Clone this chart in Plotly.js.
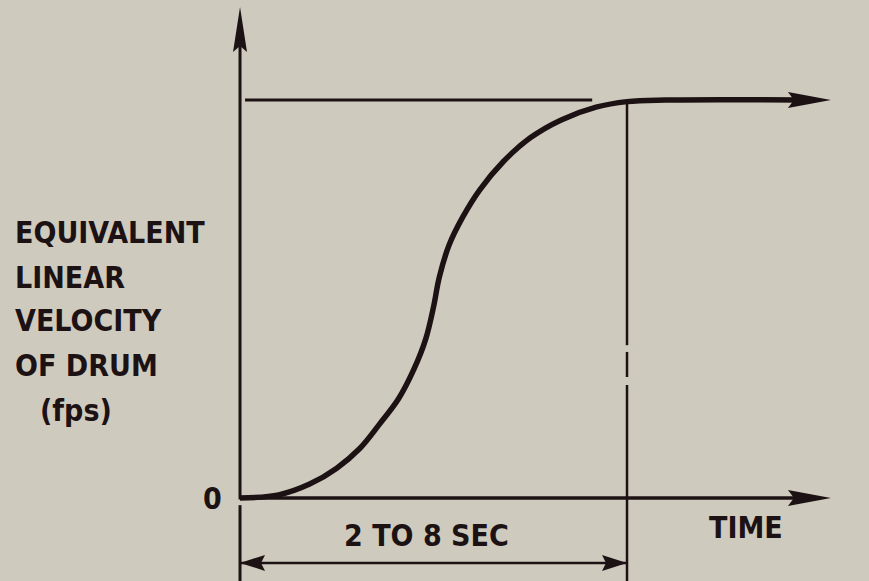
<!DOCTYPE html>
<html>
<head>
<meta charset="utf-8">
<script src="https://cdn.plot.ly/plotly-3.0.1.min.js"></script>
<style>html,body{margin:0;padding:0;background:#cfcabe;}</style>
</head>
<body>
<div id="chart" style="width:869px;height:581px;"></div>
<script>
// ---- data (time normalised: 0 = start, 1 = end of acceleration; velocity normalised: 1 = full speed)
var curveTime     = [0, 0.10, 0.18, 0.25, 0.31, 0.36, 0.41, 0.45, 0.48, 0.50, 0.515, 0.54, 0.575, 0.62, 0.68, 0.75, 0.83, 0.92, 1.00, 1.10, 1.48];
var curveVelocity = [0, 0.008, 0.035, 0.075, 0.125, 0.185, 0.25, 0.325, 0.40, 0.48, 0.555, 0.635, 0.705, 0.775, 0.845, 0.905, 0.95, 0.982, 0.996, 1.0, 1.0];
var plateauTime     = [0.013, 0.910];
var plateauVelocity = [1, 1];
var timeAxisTime     = [0, 1.48];
var timeAxisVelocity = [0, 0];
var velAxisTime      = [0, 0, null, 0, 0];
var velAxisVelocity  = [-0.21, -0.018, null, -0.004, 1.20];
var endMarkTime      = [1, 1, null, 1, 1, null, 1, 1];
var endMarkVelocity  = [1, 0.384, null, 0.367, 0.304, null, 0.284, -0.21];
var spanTime     = [0, 1];
var spanVelocity = [-0.163, -0.163];
var arrowTipTime = 1.527, velAxisTip = 1.234;
var yLabelLines = ['EQUIVALENT', 'LINEAR', 'VELOCITY', 'OF DRUM'];
var yUnitLabel = '(fps)';
var xLabel = 'TIME';
var spanLabel = '2 TO 8 SEC';
var zeroLabel = '0';

var ink = '#1c1214';
var bg = '#cfcabe';
var font = {family: '"Liberation Sans Narrow", "DejaVu Sans Condensed", sans-serif', size: 30, color: ink, weight: 'bold'};

function lineTrace(x, y, w) {
  return {x: x, y: y, mode: 'lines', type: 'scatter', hoverinfo: 'skip', showlegend: false,
          line: {color: ink, width: w, shape: 'linear'}, connectgaps: false};
}
var traces = [
  lineTrace(velAxisTime, velAxisVelocity, 3),
  lineTrace(timeAxisTime, timeAxisVelocity, 3.5),
  lineTrace(plateauTime, plateauVelocity, 3),
  lineTrace(endMarkTime, endMarkVelocity, 2.5),
  lineTrace(spanTime, spanVelocity, 2.5)
];
var curve = lineTrace(curveTime, curveVelocity, 5.5);
curve.line.shape = 'spline';
curve.line.smoothing = 1;
traces.push(curve);

function head(t, v, path) {
  return {type: 'path', xref: 'x', yref: 'y', xsizemode: 'pixel', ysizemode: 'pixel',
          xanchor: t, yanchor: v, path: path, fillcolor: ink, line: {width: 0}};
}
var shapes = [
  head(0, velAxisTip, 'M0,0 L-7,-45 L0,-39 L7,-45 Z'),
  head(arrowTipTime, 0, 'M0,0 L-43,8 L-37,0 L-43,-8 Z'),
  head(arrowTipTime, 1, 'M0,0 L-43,8 L-37,0 L-43,-8 Z'),
  head(spanTime[0], spanVelocity[0], 'M0,0 L25,8 L21,0 L25,-8 Z'),
  head(spanTime[1], spanVelocity[1], 'M0,0 L-25,8 L-21,0 L-25,-8 Z')
];

var annotations = [];
var yCenters = [0.666, 0.555, 0.445, 0.333];
yLabelLines.forEach(function (s, i) {
  annotations.push({x: -0.587, y: yCenters[i], xref: 'x', yref: 'y', text: s, showarrow: false,
                    xanchor: 'left', yanchor: 'middle', font: font});
});
annotations.push({x: -0.522, y: 0.219, xref: 'x', yref: 'y', text: yUnitLabel, showarrow: false,
                  xanchor: 'left', yanchor: 'middle', font: font});
annotations.push({x: -0.070, y: 0, xref: 'x', yref: 'y', text: zeroLabel, showarrow: false,
                  xanchor: 'center', yanchor: 'middle', font: font});
annotations.push({x: 1.307, y: -0.073, xref: 'x', yref: 'y', text: xLabel, showarrow: false,
                  xanchor: 'center', yanchor: 'middle', font: font});
annotations.push({x: 0.481, y: -0.093, xref: 'x', yref: 'y', text: spanLabel, showarrow: false,
                  xanchor: 'center', yanchor: 'middle', font: font});

var layout = {
  width: 869, height: 581,
  margin: {l: 0, r: 0, t: 0, b: 0, pad: 0},
  paper_bgcolor: bg, plot_bgcolor: bg,
  xaxis: {range: [-0.6202, 1.6253], visible: false, fixedrange: true},
  yaxis: {range: [-0.2085, 1.2513], visible: false, fixedrange: true},
  shapes: shapes,
  annotations: annotations,
  showlegend: false
};
Plotly.newPlot('chart', traces, layout, {displayModeBar: false, staticPlot: true});
</script>
</body>
</html>
